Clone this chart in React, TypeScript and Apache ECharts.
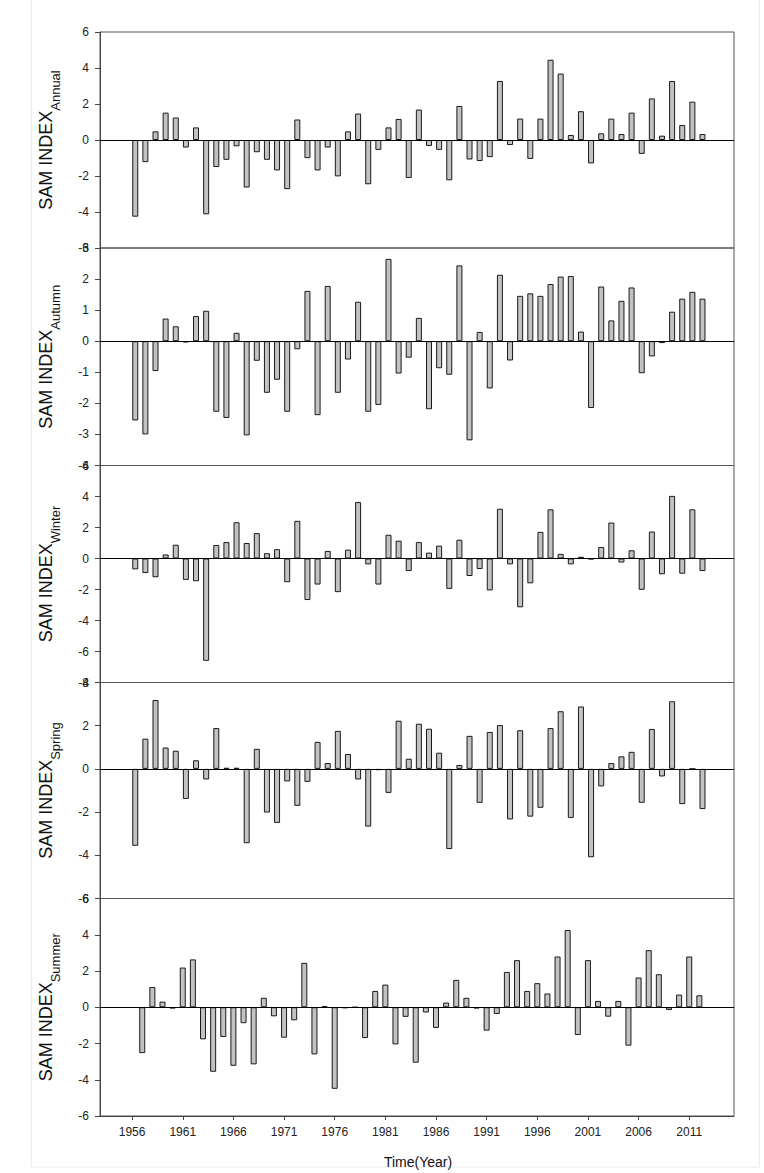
import React, { useEffect, useRef } from "react";
import * as echarts from "echarts";

const years = [
  1956, 1957, 1958, 1959, 1960, 1961, 1962, 1963, 1964, 1965,
  1966, 1967, 1968, 1969, 1970, 1971, 1972, 1973, 1974, 1975,
  1976, 1977, 1978, 1979, 1980, 1981, 1982, 1983, 1984, 1985,
  1986, 1987, 1988, 1989, 1990, 1991, 1992, 1993, 1994, 1995,
  1996, 1997, 1998, 1999, 2000, 2001, 2002, 2003, 2004, 2005,
  2006, 2007, 2008, 2009, 2010, 2011, 2012,
];

const xTickYears = [1956, 1961, 1966, 1971, 1976, 1981, 1986, 1991, 1996, 2001, 2006, 2011];

const annual = [
  -4.26, -1.23, 0.48, 1.52, 1.25, -0.42, 0.7, -4.13, -1.5, -1.1,
  -0.35, -2.64, -0.68, -1.1, -1.69, -2.73, 1.14, -1.01, -1.69, -0.42,
  -2.02, 0.48, 1.47, -2.46, -0.55, 0.7, 1.17, -2.11, 1.69, -0.33,
  -0.55, -2.24, 1.89, -1.08, -1.17, -0.95, 3.28, -0.28, 1.19, -1.05,
  1.19, 4.46, 3.69, 0.28, 1.6, -1.3, 0.37, 1.19, 0.33, 1.52,
  -0.77, 2.31, 0.24, 3.28, 0.83, 2.13, 0.33,
];

const autumn = [
  -2.55, -3.0, -0.96, 0.73, 0.48, -0.04, 0.81, 0.98, -2.27, -2.47,
  0.27, -3.03, -0.63, -1.66, -1.24, -2.27, -0.26, 1.62, -2.38, 1.78,
  -1.66, -0.59, 1.27, -2.27, -2.05, 2.65, -1.04, -0.53, 0.75, -2.19,
  -0.87, -1.08, 2.44, -3.19, 0.3, -1.52, 2.14, -0.62, 1.46, 1.54,
  1.46, 1.84, 2.08, 2.1, 0.31, -2.15, 1.76, 0.67, 1.3, 1.73,
  -1.03, -0.49, -0.06, 0.95, 1.37, 1.59, 1.37,
];

const winter = [
  -0.7, -0.94, -1.21, 0.26, 0.89, -1.38, -1.47, -6.6, 0.87, 1.06,
  2.34, 1.0, 1.64, 0.34, 0.6, -1.53, 2.43, -2.68, -1.68, 0.49,
  -2.17, 0.57, 3.64, -0.38, -1.68, 1.53, 1.15, -0.81, 1.06, 0.38,
  0.83, -1.96, 1.21, -1.13, -0.68, -2.06, 3.21, -0.38, -3.15, -1.6,
  1.72, 3.17, 0.3, -0.38, 0.11, -0.06, 0.74, 2.32, -0.26, 0.53,
  -2.02, 1.74, -1.02, 4.04, -0.98, 3.17, -0.81,
];

const spring = [
  -3.56, 1.4, 3.19, 0.99, 0.84, -1.39, 0.4, -0.49, 1.89, 0.05,
  0.05, -3.44, 0.93, -2.02, -2.5, -0.58, -1.71, -0.6, 1.25, 0.27,
  1.76, 0.69, -0.49, -2.67, -0.06, -1.11, 2.23, 0.47, 2.09, 1.86,
  0.75, -3.71, 0.18, 1.53, -1.57, 1.71, 2.03, -2.34, 1.79, -2.21,
  -1.8, 1.89, 2.67, -2.27, 2.89, -4.09, -0.81, 0.27, 0.58, 0.79,
  -1.57, 1.85, -0.35, 3.13, -1.63, 0, -1.86,
];

const summer = [
  null, -2.53, 1.12, 0.31, -0.07, 2.19, 2.64, -1.77, -3.56, -1.64,
  -3.23, -0.88, -3.15, 0.52, -0.5, -1.68, -0.72, 2.45, -2.6, 0.07,
  -4.5, -0.05, 0, -1.7, 0.9, 1.25, -2.05, -0.53, -3.06, -0.29,
  -1.14, 0.26, 1.51, 0.52, -0.07, -1.29, -0.37, 1.95, 2.6, 0.9,
  1.33, 0.76, 2.8, 4.26, -1.53, 2.6, 0.35, -0.52, 0.35, -2.12,
  1.64, 3.15, 1.82, -0.15, 0.7, 2.8, 0.66,
];

const panelNames = ["Annual", "Autumn", "Winter", "Spring", "Summer"];
const panelSeries = [annual, autumn, winter, spring, summer];
const yMins = [-6, -4, -8, -6, -6];
const yMaxs = [6, 3, 6, 4, 6];
const yIntervals = [2, 1, 2, 2, 2];

// layout (px)
const panelTops = [32, 248, 465.5, 682.5, 898.5];
const panelBottoms = [248, 465.5, 682.5, 898.5, 1116];
const gridLeft = 100;
const gridWidth = 634;
const subWidths = [40.5, 44.8, 37.6, 37.6, 49.1];
const mainWidth = 99;

const FONT = "'Liberation Sans', Arial, Helvetica, sans-serif";

export default function App() {
  const ref = useRef<HTMLDivElement>(null);

  useEffect(() => {
    if (!ref.current) return;
    const chart = echarts.init(ref.current, undefined, { renderer: "svg" });

    const grids: any[] = [];
    const xAxes: any[] = [];
    const yAxes: any[] = [];
    const series: any[] = [];
    const graphics: any[] = [];

    panelNames.forEach((name, i) => {
      const top = panelTops[i];
      const height = panelBottoms[i] - panelTops[i];
      const isLast = i === panelNames.length - 1;
      grids.push({
        left: gridLeft,
        top,
        width: gridWidth,
        height,
        show: true,
        borderColor: "#555",
        borderWidth: 1,
        backgroundColor: "transparent",
        containLabel: false,
      });
      xAxes.push({
        gridIndex: i,
        type: "value",
        min: isLast ? 1952.83 : 1952.52,
        max: isLast ? 2015.42 : 2015.11,
        axisLine: { show: isLast, onZero: false, lineStyle: { color: "#444", width: 1 } },
        axisTick: {
          show: isLast,
          inside: false,
          length: 4,
          customValues: xTickYears,
          lineStyle: { color: "#444" },
        },
        axisLabel: {
          show: isLast,
          customValues: xTickYears,
          margin: 10,
          fontSize: 12,
          color: "#222",
          fontFamily: FONT,
          formatter: (v: number) => String(v),
        },
        splitLine: { show: false },
      });
      yAxes.push({
        gridIndex: i,
        type: "value",
        min: yMins[i],
        max: yMaxs[i],
        interval: yIntervals[i],
        axisLine: { show: true, onZero: false, lineStyle: { color: "#444", width: 1 } },
        axisTick: { show: true, inside: false, length: 5, lineStyle: { color: "#444" } },
        axisLabel: {
          margin: 11,
          fontSize: 12,
          color: "#222",
          fontFamily: FONT,
          showMinLabel: true,
          showMaxLabel: true,
        },
        splitLine: { show: false },
      });
      series.push({
        type: "bar",
        xAxisIndex: i,
        yAxisIndex: i,
        barWidth: 6,
        data: years
          .map((y, k) => [y, panelSeries[i][k]])
          .filter((d) => d[1] !== null),
        itemStyle: { color: "#c2c2c2", borderColor: "#1a1a1a", borderWidth: 1 },
        markLine: {
          silent: true,
          symbol: ["none", "none"],
          label: { show: false },
          lineStyle: { color: "#000", width: 1, type: "solid" },
          data: [{ yAxis: 0 }],
        },
      });

      const centerY = (panelTops[i] + panelBottoms[i]) / 2;
      const boundaryY = centerY - (mainWidth - subWidths[i]) / 2;
      graphics.push({
        type: "text",
        x: 46,
        y: boundaryY,
        rotation: Math.PI / 2,
        style: {
          text: "SAM INDEX",
          fontSize: 18,
          fontFamily: FONT,
          fill: "#111",
          align: "right",
          verticalAlign: "middle",
        },
      });
      graphics.push({
        type: "text",
        x: 55.5,
        y: boundaryY,
        rotation: Math.PI / 2,
        style: {
          text: name,
          fontSize: 13,
          fontFamily: FONT,
          fill: "#111",
          align: "left",
          verticalAlign: "middle",
        },
      });
    });

    graphics.push({
      type: "text",
      x: 418,
      y: 1162,
      style: {
        text: "Time(Year)",
        fontSize: 14,
        fontFamily: FONT,
        fill: "#111",
        align: "center",
        verticalAlign: "middle",
      },
    });
    graphics.push({
      type: "rect",
      shape: { x: 31.5, y: -2, width: 728, height: 1169 },
      style: { fill: "none", stroke: "#ececec", lineWidth: 1 },
      silent: true,
      z: -10,
    });

    chart.setOption({
      animation: false,
      backgroundColor: "#fff",
      textStyle: { fontFamily: FONT },
      grid: grids,
      xAxis: xAxes,
      yAxis: yAxes,
      series,
      graphic: graphics,
    });

    return () => chart.dispose();
  }, []);

  return (
    <div
      ref={ref}
      style={{ position: "absolute", left: 0, top: 0, width: 764, height: 1173 }}
    />
  );
}
